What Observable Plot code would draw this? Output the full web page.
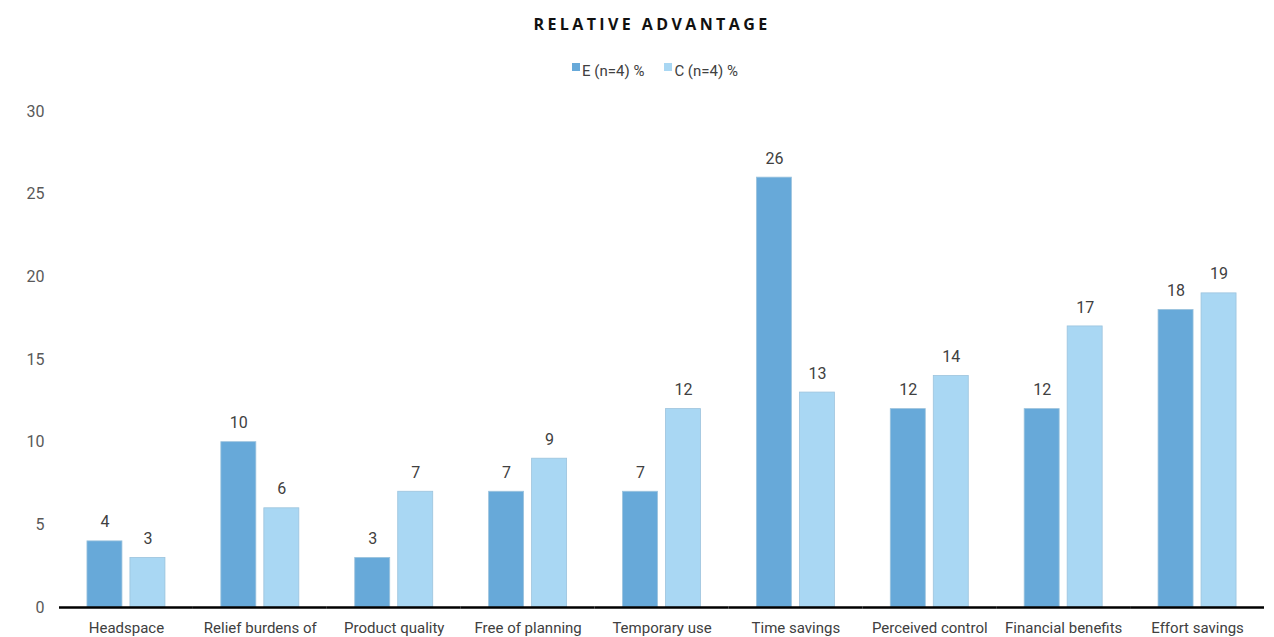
<!DOCTYPE html>
<html>
<head>
<meta charset="utf-8">
<script src="https://cdn.jsdelivr.net/npm/d3@7"></script>
<script src="https://cdn.jsdelivr.net/npm/@observablehq/plot@0.6"></script>
<style>
  html, body { margin: 0; padding: 0; background: #fff; }
  #wrap { width: 1274px; font-family: Roboto, sans-serif; }
  #head { height: 90px; position: relative; }
  #title { position: absolute; top: 13px; left: 15px; width: 1274px; text-align: center; font-family: "Open Sans", sans-serif; font-weight: 700; font-size: 16px; letter-spacing: 3.4px; color: #111; }
  #legend { position: absolute; top: 62px; left: 18px; width: 1274px; text-align: center; font-size: 15px; color: #404040; }
  .sw { display: inline-block; width: 8px; height: 8px; margin-right: 2px; vertical-align: 5px; }
  .item { margin: 0 10px; }
</style>
</head>
<body>
<div id="wrap">
  <div id="head">
    <div id="title">RELATIVE ADVANTAGE</div>
    <div id="legend"></div>
  </div>
  <div id="chart"></div>
</div>
<script>
const categories = ["Headspace", "Relief burdens of", "Product quality", "Free of planning", "Temporary use", "Time savings", "Perceived control", "Financial benefits", "Effort savings"];
const seriesNames = ["E (n=4) %", "C (n=4) %"];
const seriesE = [4, 10, 3, 7, 7, 26, 12, 12, 18];
const seriesC = [3, 6, 7, 9, 12, 13, 14, 17, 19];
const colors = ["#67a9d9", "#a9d7f3"];
const yTicks = [0, 5, 10, 15, 20, 25, 30];

const data = [];
categories.forEach((c, i) => {
  data.push({cat: c, series: seriesNames[0], value: seriesE[i]});
  data.push({cat: c, series: seriesNames[1], value: seriesC[i]});
});

const legend = document.getElementById("legend");
seriesNames.forEach((s, i) => {
  const span = document.createElement("span");
  span.className = "item";
  span.innerHTML = `<span class="sw" style="background:${colors[i]}"></span>${s}`;
  legend.appendChild(span);
});

const chart = Plot.plot({
  width: 1274,
  height: 547,
  marginTop: 21,
  marginBottom: 30,
  marginLeft: 59,
  marginRight: 10,
  style: {fontFamily: "Roboto, sans-serif", fontSize: "15px", color: "#404040"},
  fx: {domain: categories, paddingInner: 0, paddingOuter: 0, round: false, label: null, axis: "bottom", tickSize: 0, tickPadding: 15},
  x: {domain: seriesNames, paddingInner: 0.186, paddingOuter: 0.65, round: false, axis: null},
  y: {domain: [0, 30], ticks: yTicks, label: null, tickSize: 0, tickPadding: 15},
  color: {domain: seriesNames, range: colors},
  marks: [
    Plot.barY(data, {fx: "cat", x: "series", y: "value", fill: "series", stroke: "#9cc3dd", strokeWidth: 0.8}),
    Plot.text(data, {fx: "cat", x: "series", y: "value", text: d => String(d.value), dy: -19, fontSize: 16, fill: "#404040"}),
    Plot.axisY({ticks: yTicks, tickSize: 0, tickPadding: 15, fontSize: 16, color: "#595959", label: null}),
    Plot.ruleY([0], {stroke: "#000", strokeWidth: 2.5})
  ]
});
document.getElementById("chart").appendChild(chart);
</script>
</body>
</html>
